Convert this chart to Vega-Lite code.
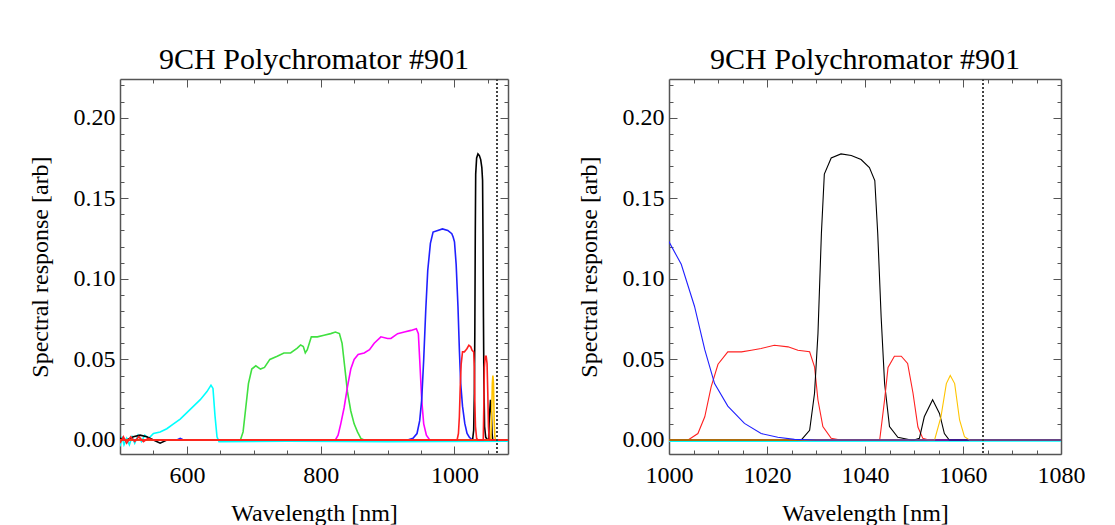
{
  "$schema": "https://vega.github.io/schema/vega-lite/v6.json",
  "background": "white",
  "padding": {"left": 28, "top": 45, "right": 0, "bottom": 0},
  "config": {
    "font": "Liberation Serif",
    "view": {"stroke": null},
    "axis": {"grid": false, "domainColor": "#555555", "domainWidth": 1.5, "tickColor": "#555555", "tickWidth": 1, "labelColor": "#000000", "labelFontSize": 24, "titleFontSize": 24, "titleFontWeight": "normal", "titleColor": "#000000", "labelFont": "Liberation Serif", "titleFont": "Liberation Serif", "labelFlush": false, "labelOverlap": false},
    "title": {"font": "Liberation Serif", "fontSize": 30, "fontWeight": "normal", "color": "#000000"}
  },
  "data": {"values": [
    {"ch":"ch1","wl":500,"r":-0.004},{"ch":"ch1","wl":503,"r":0.002},{"ch":"ch1","wl":506,"r":-0.003},{"ch":"ch1","wl":510,"r":0.001},{"ch":"ch1","wl":514,"r":-0.003},{"ch":"ch1","wl":518,"r":0.002},{"ch":"ch1","wl":522,"r":-0.002},{"ch":"ch1","wl":527,"r":0.003},{"ch":"ch1","wl":532,"r":-0.001},{"ch":"ch1","wl":537,"r":0.003},{"ch":"ch1","wl":543,"r":0.001},{"ch":"ch1","wl":550,"r":0.004},{"ch":"ch1","wl":560,"r":0.005},{"ch":"ch1","wl":570,"r":0.007},{"ch":"ch1","wl":580,"r":0.010},{"ch":"ch1","wl":590,"r":0.013},{"ch":"ch1","wl":600,"r":0.017},{"ch":"ch1","wl":610,"r":0.021},{"ch":"ch1","wl":620,"r":0.025},{"ch":"ch1","wl":630,"r":0.030},{"ch":"ch1","wl":636,"r":0.034},{"ch":"ch1","wl":639,"r":0.032},{"ch":"ch1","wl":642,"r":0.015},{"ch":"ch1","wl":645,"r":0.002},{"ch":"ch1","wl":648,"r":-0.001},{"ch":"ch1","wl":750,"r":-0.0008},{"ch":"ch1","wl":900,"r":-0.001},{"ch":"ch1","wl":1080,"r":-0.0008},
    {"ch":"ch2","wl":500,"r":0},{"ch":"ch2","wl":680,"r":0},{"ch":"ch2","wl":684,"r":0.005},{"ch":"ch2","wl":688,"r":0.02},{"ch":"ch2","wl":692,"r":0.035},{"ch":"ch2","wl":697,"r":0.044},{"ch":"ch2","wl":703,"r":0.046},{"ch":"ch2","wl":710,"r":0.044},{"ch":"ch2","wl":716,"r":0.045},{"ch":"ch2","wl":724,"r":0.050},{"ch":"ch2","wl":735,"r":0.052},{"ch":"ch2","wl":745,"r":0.054},{"ch":"ch2","wl":755,"r":0.054},{"ch":"ch2","wl":765,"r":0.057},{"ch":"ch2","wl":770,"r":0.059},{"ch":"ch2","wl":774,"r":0.058},{"ch":"ch2","wl":777,"r":0.054},{"ch":"ch2","wl":780,"r":0.056},{"ch":"ch2","wl":786,"r":0.064},{"ch":"ch2","wl":795,"r":0.064},{"ch":"ch2","wl":805,"r":0.065},{"ch":"ch2","wl":815,"r":0.066},{"ch":"ch2","wl":822,"r":0.067},{"ch":"ch2","wl":828,"r":0.066},{"ch":"ch2","wl":832,"r":0.060},{"ch":"ch2","wl":836,"r":0.045},{"ch":"ch2","wl":840,"r":0.030},{"ch":"ch2","wl":845,"r":0.018},{"ch":"ch2","wl":850,"r":0.010},{"ch":"ch2","wl":855,"r":0.005},{"ch":"ch2","wl":860,"r":0.001},{"ch":"ch2","wl":865,"r":0},{"ch":"ch2","wl":1080,"r":0},
    {"ch":"ch3","wl":500,"r":0},{"ch":"ch3","wl":822,"r":0},{"ch":"ch3","wl":826,"r":0.003},{"ch":"ch3","wl":830,"r":0.010},{"ch":"ch3","wl":835,"r":0.020},{"ch":"ch3","wl":840,"r":0.033},{"ch":"ch3","wl":845,"r":0.044},{"ch":"ch3","wl":850,"r":0.050},{"ch":"ch3","wl":856,"r":0.053},{"ch":"ch3","wl":865,"r":0.054},{"ch":"ch3","wl":873,"r":0.056},{"ch":"ch3","wl":880,"r":0.060},{"ch":"ch3","wl":890,"r":0.064},{"ch":"ch3","wl":900,"r":0.063},{"ch":"ch3","wl":905,"r":0.063},{"ch":"ch3","wl":915,"r":0.066},{"ch":"ch3","wl":925,"r":0.067},{"ch":"ch3","wl":935,"r":0.068},{"ch":"ch3","wl":943,"r":0.069},{"ch":"ch3","wl":946,"r":0.066},{"ch":"ch3","wl":948,"r":0.050},{"ch":"ch3","wl":951,"r":0.025},{"ch":"ch3","wl":954,"r":0.010},{"ch":"ch3","wl":958,"r":0.003},{"ch":"ch3","wl":963,"r":0},{"ch":"ch3","wl":1080,"r":0},
    {"ch":"ch4","wl":500,"r":0},{"ch":"ch4","wl":585,"r":0},{"ch":"ch4","wl":590,"r":0.001},{"ch":"ch4","wl":595,"r":0},{"ch":"ch4","wl":930,"r":0},{"ch":"ch4","wl":938,"r":0.001},{"ch":"ch4","wl":944,"r":0.004},{"ch":"ch4","wl":948,"r":0.012},{"ch":"ch4","wl":951,"r":0.025},{"ch":"ch4","wl":954,"r":0.05},{"ch":"ch4","wl":957,"r":0.08},{"ch":"ch4","wl":960,"r":0.105},{"ch":"ch4","wl":964,"r":0.122},{"ch":"ch4","wl":968,"r":0.129},{"ch":"ch4","wl":975,"r":0.130},{"ch":"ch4","wl":982,"r":0.131},{"ch":"ch4","wl":990,"r":0.130},{"ch":"ch4","wl":996,"r":0.128},{"ch":"ch4","wl":998,"r":0.126},{"ch":"ch4","wl":1000,"r":0.123},{"ch":"ch4","wl":1002.5,"r":0.109},{"ch":"ch4","wl":1005.2,"r":0.083},{"ch":"ch4","wl":1007.3,"r":0.056},{"ch":"ch4","wl":1009.3,"r":0.035},{"ch":"ch4","wl":1012,"r":0.021},{"ch":"ch4","wl":1015.4,"r":0.0103},{"ch":"ch4","wl":1018.8,"r":0.004},{"ch":"ch4","wl":1022.2,"r":0.0017},{"ch":"ch4","wl":1025.6,"r":0.0004},{"ch":"ch4","wl":1030,"r":0},{"ch":"ch4","wl":1080,"r":0},
    {"ch":"ch5","wl":500,"r":-0.002},{"ch":"ch5","wl":505,"r":0.002},{"ch":"ch5","wl":510,"r":-0.002},{"ch":"ch5","wl":516,"r":0.002},{"ch":"ch5","wl":522,"r":-0.001},{"ch":"ch5","wl":528,"r":0.002},{"ch":"ch5","wl":535,"r":-0.001},{"ch":"ch5","wl":542,"r":0.001},{"ch":"ch5","wl":550,"r":0},{"ch":"ch5","wl":1003.9,"r":0},{"ch":"ch5","wl":1005.9,"r":0.004},{"ch":"ch5","wl":1007.3,"r":0.0144},{"ch":"ch5","wl":1008.6,"r":0.033},{"ch":"ch5","wl":1010,"r":0.047},{"ch":"ch5","wl":1012,"r":0.0547},{"ch":"ch5","wl":1014.8,"r":0.0547},{"ch":"ch5","wl":1016.8,"r":0.0557},{"ch":"ch5","wl":1018.8,"r":0.0568},{"ch":"ch5","wl":1021.5,"r":0.0588},{"ch":"ch5","wl":1024.3,"r":0.0578},{"ch":"ch5","wl":1026.3,"r":0.0557},{"ch":"ch5","wl":1028.7,"r":0.0547},{"ch":"ch5","wl":1029.7,"r":0.0454},{"ch":"ch5","wl":1030.4,"r":0.0248},{"ch":"ch5","wl":1031.4,"r":0.0083},{"ch":"ch5","wl":1033.1,"r":0.001},{"ch":"ch5","wl":1035,"r":0},{"ch":"ch5","wl":1080,"r":0},
    {"ch":"ch6","wl":500,"r":0.001},{"ch":"ch6","wl":510,"r":0.0},{"ch":"ch6","wl":520,"r":0.002},{"ch":"ch6","wl":530,"r":0.003},{"ch":"ch6","wl":540,"r":0.002},{"ch":"ch6","wl":550,"r":0},{"ch":"ch6","wl":560,"r":-0.002},{"ch":"ch6","wl":570,"r":0},{"ch":"ch6","wl":1027,"r":0},{"ch":"ch6","wl":1028.7,"r":0.006},{"ch":"ch6","wl":1029.7,"r":0.029},{"ch":"ch6","wl":1030.4,"r":0.066},{"ch":"ch6","wl":1031.1,"r":0.128},{"ch":"ch6","wl":1031.7,"r":0.165},{"ch":"ch6","wl":1033.1,"r":0.175},{"ch":"ch6","wl":1035.1,"r":0.1775},{"ch":"ch6","wl":1037.2,"r":0.1765},{"ch":"ch6","wl":1039.2,"r":0.174},{"ch":"ch6","wl":1040.9,"r":0.169},{"ch":"ch6","wl":1042,"r":0.161},{"ch":"ch6","wl":1042.6,"r":0.128},{"ch":"ch6","wl":1043.3,"r":0.076},{"ch":"ch6","wl":1044,"r":0.035},{"ch":"ch6","wl":1045,"r":0.0083},{"ch":"ch6","wl":1046.7,"r":0.0017},{"ch":"ch6","wl":1049.4,"r":0},{"ch":"ch6","wl":1080,"r":0},
    {"ch":"ch7","wl":500,"r":0},{"ch":"ch7","wl":1043,"r":0},{"ch":"ch7","wl":1044,"r":0.025},{"ch":"ch7","wl":1044.7,"r":0.045},{"ch":"ch7","wl":1046,"r":0.052},{"ch":"ch7","wl":1047.4,"r":0.052},{"ch":"ch7","wl":1048.7,"r":0.0475},{"ch":"ch7","wl":1049.8,"r":0.029},{"ch":"ch7","wl":1050.8,"r":0.008},{"ch":"ch7","wl":1051.8,"r":0.001},{"ch":"ch7","wl":1053,"r":0},{"ch":"ch7","wl":1080,"r":0},
    {"ch":"ch8","wl":500,"r":0},{"ch":"ch8","wl":1050,"r":0},{"ch":"ch8","wl":1051.1,"r":0.001},{"ch":"ch8","wl":1052.1,"r":0.0144},{"ch":"ch8","wl":1053.8,"r":0.025},{"ch":"ch8","wl":1055.2,"r":0.0165},{"ch":"ch8","wl":1056.2,"r":0.004},{"ch":"ch8","wl":1057.2,"r":0},{"ch":"ch8","wl":1080,"r":0},
    {"ch":"ch9","wl":500,"r":0},{"ch":"ch9","wl":1054.2,"r":0},{"ch":"ch9","wl":1055.5,"r":0.0144},{"ch":"ch9","wl":1056.6,"r":0.035},{"ch":"ch9","wl":1057.4,"r":0.040},{"ch":"ch9","wl":1058.3,"r":0.035},{"ch":"ch9","wl":1059.3,"r":0.0124},{"ch":"ch9","wl":1060.3,"r":0.002},{"ch":"ch9","wl":1061.3,"r":0},{"ch":"ch9","wl":1080,"r":0}
  ]},
  "spacing": 68,
  "hconcat": [
    {
      "width": 388, "height": 375,
      "title": {"text": "9CH Polychromator #901", "offset": -2},
      "resolve": {"axis": {"x": "independent", "y": "independent"}},
      "layer": [
        {
          "transform": [{"filter": {"field": "ch", "oneOf": ["ch1","ch2","ch3","ch4","ch6","ch8","ch9"]}}],
          "mark": {"type": "line", "clip": true, "strokeWidth": 1.6},
          "encoding": {
            "x": {"field": "wl", "type": "quantitative", "scale": {"domain": [500, 1080], "nice": false, "zero": false},
              "axis": {"orient": "bottom", "title": "Wavelength [nm]", "format": "d", "values": [550,600,650,700,750,800,850,900,950,1000,1050], "labelExpr": "datum.value % 200 === 0 ? datum.label : ''", "tickSize": {"condition": {"test": "datum.value % 200 === 0", "value": -8}, "value": -4}, "labelPadding": 17, "titlePadding": 10}},
            "y": {"field": "r", "type": "quantitative", "scale": {"domain": [-0.0087, 0.224], "nice": false, "zero": false},
              "axis": {"orient": "left", "title": "Spectral response [arb]", "format": ".2f", "values": [0,0.01,0.02,0.03,0.04,0.05,0.06,0.07,0.08,0.09,0.1,0.11,0.12,0.13,0.14,0.15,0.16,0.17,0.18,0.19,0.2,0.21,0.22], "labelExpr": "round(datum.value*100) % 5 === 0 ? datum.label : ''", "tickSize": {"condition": {"test": "round(datum.value*100) % 5 === 0", "value": -8}, "value": -4}, "labelPadding": 13, "titlePadding": 21}},
            "color": {"field": "ch", "type": "nominal", "legend": null, "scale": {"domain": ["ch1","ch2","ch3","ch4","ch5","ch6","ch7","ch8","ch9"], "range": ["#00ffff","#40e040","#ff00ff","#2020ff","#ff2020","#000000","#ff2020","#000000","#ffc400"]}}
          }
        },
        {
          "transform": [{"filter": {"field": "ch", "oneOf": ["ch5","ch7"]}}],
          "mark": {"type": "line", "clip": true, "strokeWidth": 1.6},
          "encoding": {
            "x": {"field": "wl", "type": "quantitative", "axis": {"orient": "top", "title": null, "labels": false, "values": [550,600,650,700,750,800,850,900,950,1000,1050], "tickSize": {"condition": {"test": "datum.value % 200 === 0", "value": -8}, "value": -4}}},
            "y": {"field": "r", "type": "quantitative", "axis": {"orient": "right", "title": null, "labels": false, "values": [0,0.01,0.02,0.03,0.04,0.05,0.06,0.07,0.08,0.09,0.1,0.11,0.12,0.13,0.14,0.15,0.16,0.17,0.18,0.19,0.2,0.21,0.22], "tickSize": {"condition": {"test": "round(datum.value*100) % 5 === 0", "value": -8}, "value": -4}}},
            "color": {"field": "ch", "type": "nominal", "legend": null}
          }
        },
        {
          "mark": {"type": "rule", "color": "#444444", "strokeDash": [2, 2], "strokeWidth": 1},
          "encoding": {"x": {"datum": 1064, "type": "quantitative", "axis": null}}
        }
      ]
    },
    {
      "width": 392, "height": 375,
      "title": {"text": "9CH Polychromator #901", "offset": -2},
      "resolve": {"axis": {"x": "independent", "y": "independent"}},
      "layer": [
        {
          "transform": [{"filter": {"field": "ch", "oneOf": ["ch1","ch2","ch3","ch6","ch8","ch5","ch7","ch9"]}}],
          "mark": {"type": "line", "clip": true, "strokeWidth": 1.1},
          "encoding": {
            "x": {"field": "wl", "type": "quantitative", "scale": {"domain": [1000, 1080], "nice": false, "zero": false},
              "axis": {"orient": "bottom", "title": "Wavelength [nm]", "format": "d", "values": [1000,1005,1010,1015,1020,1025,1030,1035,1040,1045,1050,1055,1060,1065,1070,1075,1080], "labelExpr": "datum.value % 20 === 0 ? datum.label : ''", "tickSize": {"condition": {"test": "datum.value % 20 === 0", "value": -8}, "value": -4}, "labelPadding": 17, "titlePadding": 10}},
            "y": {"field": "r", "type": "quantitative", "scale": {"domain": [-0.0087, 0.224], "nice": false, "zero": false},
              "axis": {"orient": "left", "title": "Spectral response [arb]", "format": ".2f", "values": [0,0.01,0.02,0.03,0.04,0.05,0.06,0.07,0.08,0.09,0.1,0.11,0.12,0.13,0.14,0.15,0.16,0.17,0.18,0.19,0.2,0.21,0.22], "labelExpr": "round(datum.value*100) % 5 === 0 ? datum.label : ''", "tickSize": {"condition": {"test": "round(datum.value*100) % 5 === 0", "value": -8}, "value": -4}, "labelPadding": 13, "titlePadding": 21}},
            "color": {"field": "ch", "type": "nominal", "legend": null, "scale": {"domain": ["ch1","ch2","ch3","ch4","ch5","ch6","ch7","ch8","ch9"], "range": ["#00ffff","#40e040","#ff00ff","#2020ff","#ff2020","#000000","#ff2020","#000000","#ffc400"]}}
          }
        },
        {
          "transform": [{"filter": {"field": "ch", "oneOf": ["ch4"]}}],
          "mark": {"type": "line", "clip": true, "strokeWidth": 1.1},
          "encoding": {
            "x": {"field": "wl", "type": "quantitative", "axis": {"orient": "top", "title": null, "labels": false, "values": [1005,1010,1015,1020,1025,1030,1035,1040,1045,1050,1055,1060,1065,1070,1075], "tickSize": {"condition": {"test": "datum.value % 20 === 0", "value": -8}, "value": -4}}},
            "y": {"field": "r", "type": "quantitative", "axis": {"orient": "right", "title": null, "labels": false, "values": [0,0.01,0.02,0.03,0.04,0.05,0.06,0.07,0.08,0.09,0.1,0.11,0.12,0.13,0.14,0.15,0.16,0.17,0.18,0.19,0.2,0.21,0.22], "tickSize": {"condition": {"test": "round(datum.value*100) % 5 === 0", "value": -8}, "value": -4}}},
            "color": {"field": "ch", "type": "nominal", "legend": null}
          }
        },
        {
          "mark": {"type": "rule", "color": "#444444", "strokeDash": [2, 2], "strokeWidth": 1},
          "encoding": {"x": {"datum": 1064, "type": "quantitative", "axis": null}}
        }
      ]
    }
  ]
}
